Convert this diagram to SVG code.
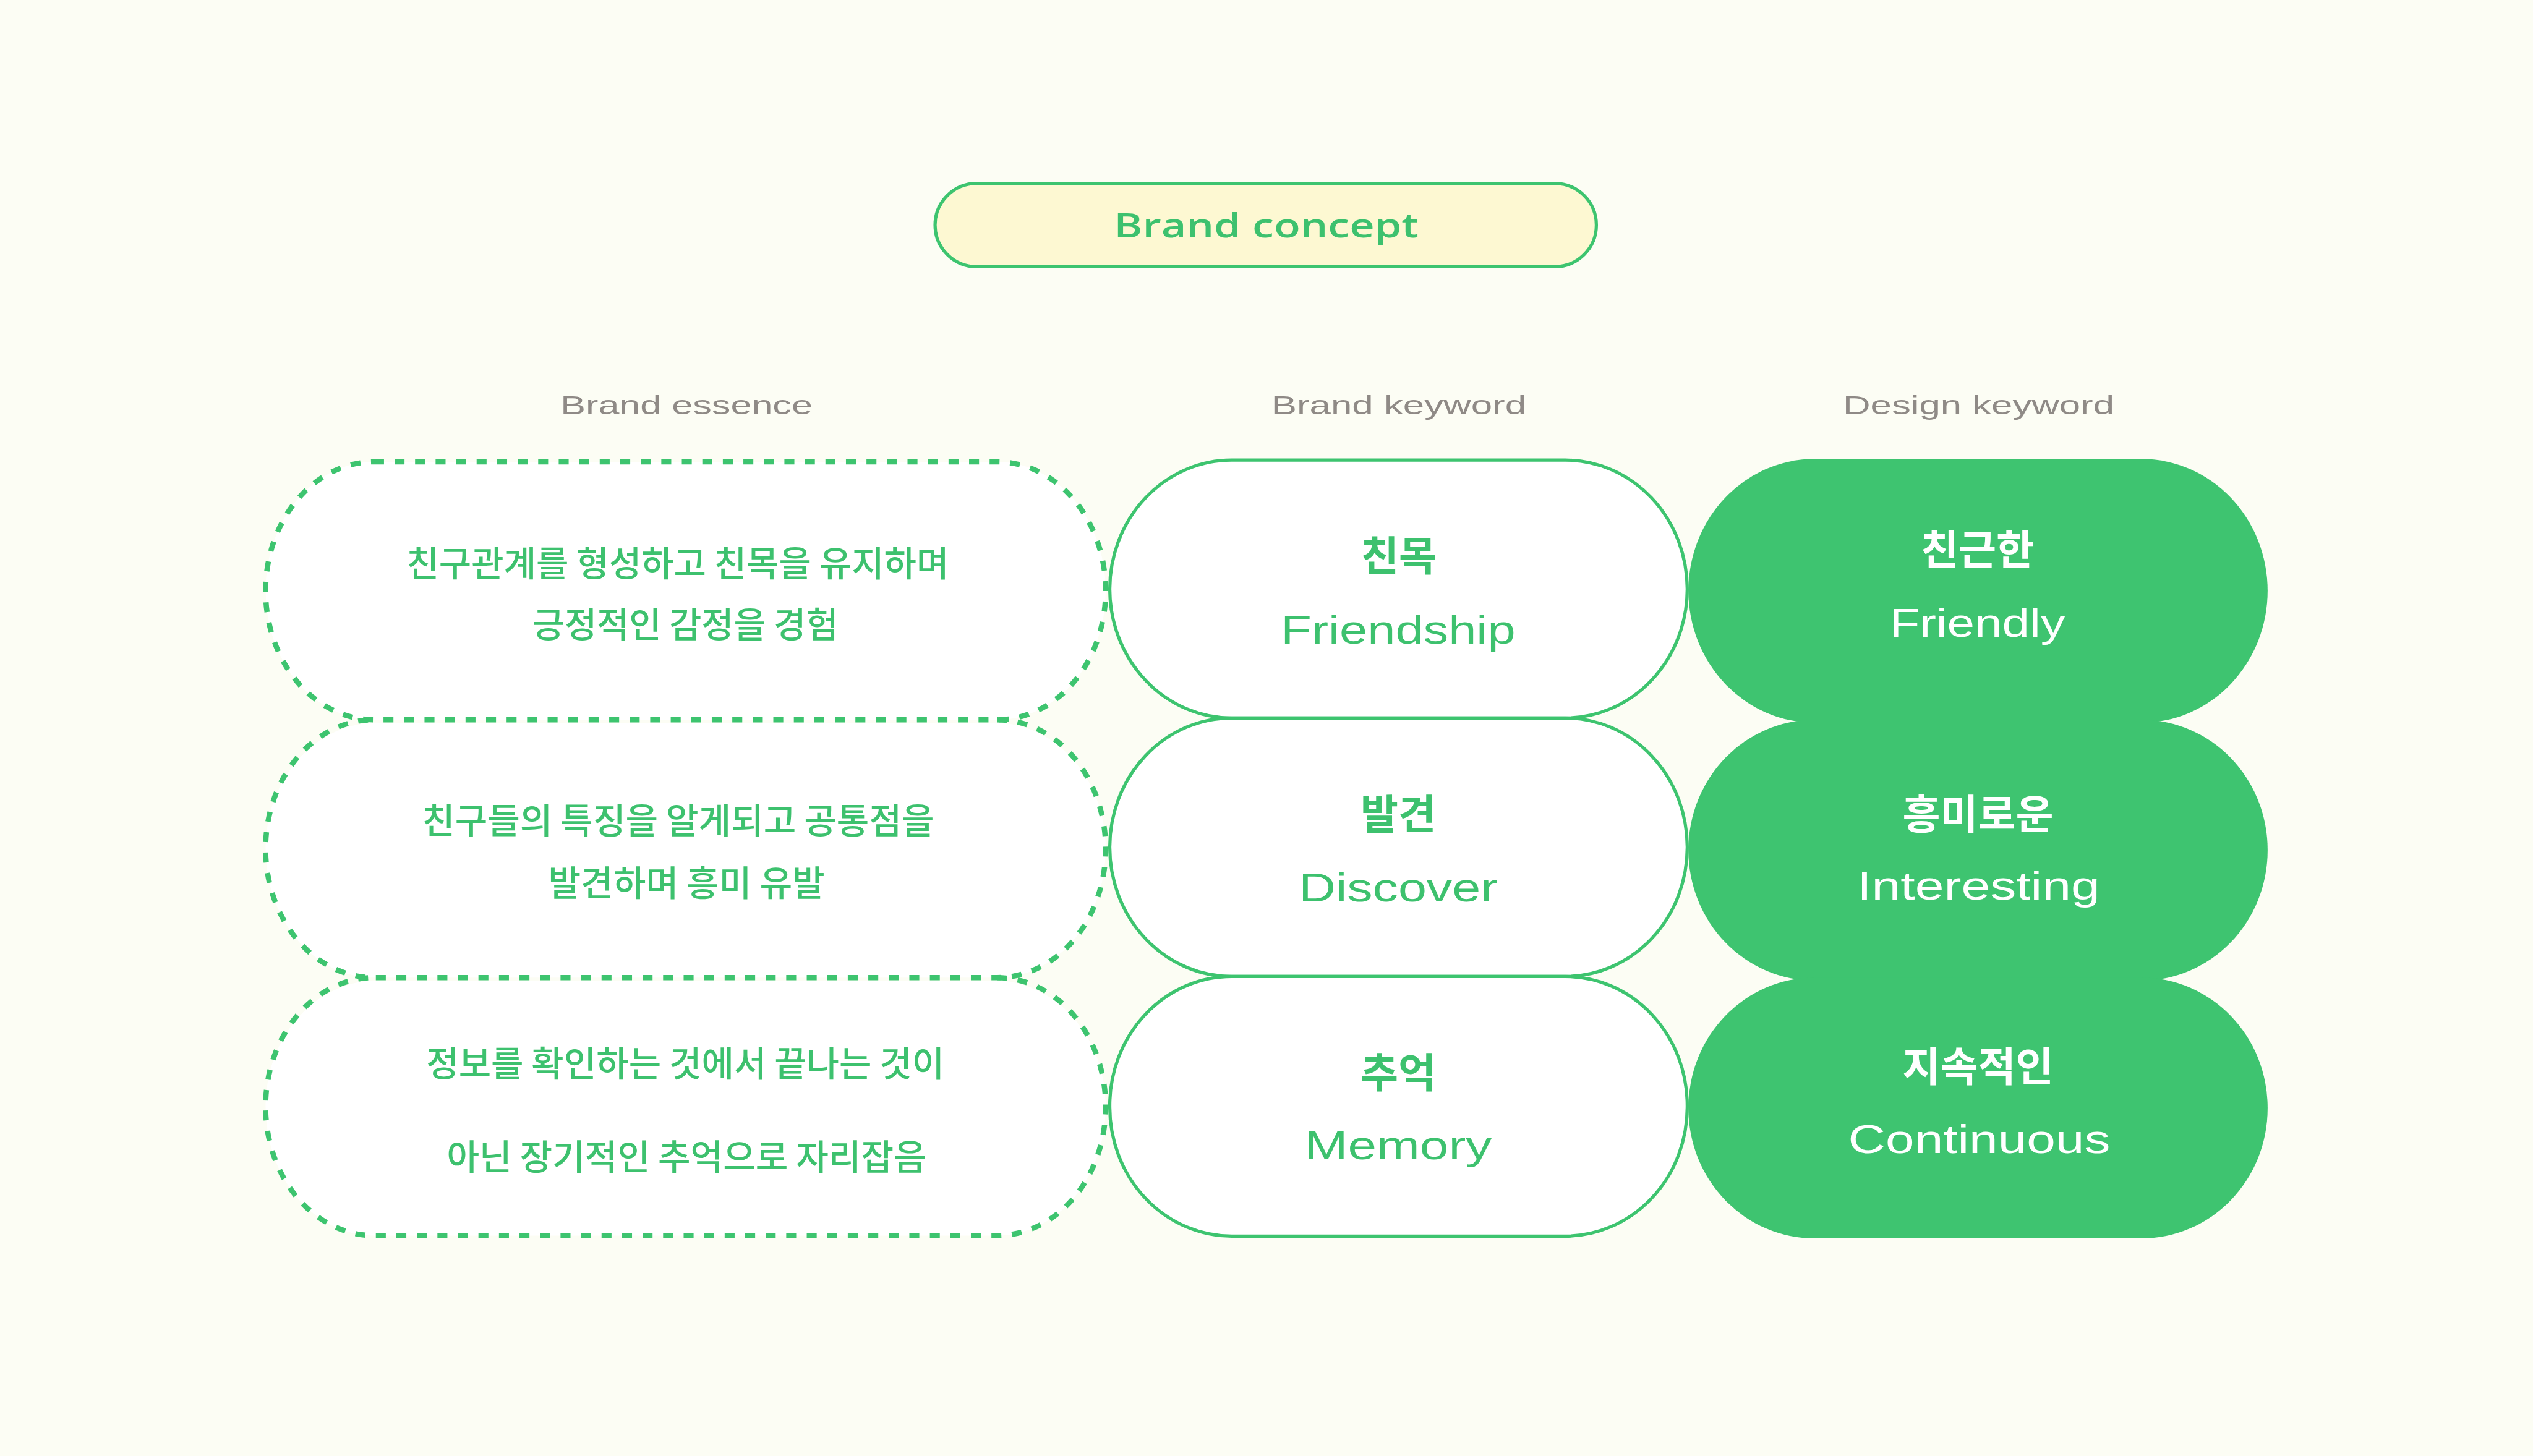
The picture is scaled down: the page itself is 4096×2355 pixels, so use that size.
<svg xmlns="http://www.w3.org/2000/svg" width="4096" height="2355" viewBox="0 0 4096 2355">
<style>
.bg{fill:#FCFDF4}
.en{font-family:"Liberation Sans","Noto Sans",sans-serif;text-anchor:middle}
.ko{font-family:"Noto Sans CJK KR","Noto Sans",sans-serif;text-anchor:middle}
.hdr{fill:#8F8A86;font-size:44px}
.g{fill:#3DC16E}
.w{fill:#FFFFFF}
.body{font-size:60px;font-weight:500}
.ttl{font-size:70px;font-weight:700}
.kw{font-size:68px}
.efill{fill:#FFFFFF;stroke:none}
.dash{fill:none;stroke:#3DC46F;stroke-width:9;stroke-dasharray:17 18}
.mid{fill:#FFFFFF;stroke:#3DC46F;stroke-width:5.5}
.fill{fill:#3EC470}
</style>
<rect class="bg" x="0" y="0" width="4096" height="2355"/>
<g transform="scale(0.948)">
  <g id="brand-concept">
    <rect x="1595" y="313" width="1128" height="142" rx="71" ry="71" fill="#FDF8D2" stroke="#3DC46F" stroke-width="5.5"/>
    <text class="g" x="2160" y="405" font-family="'Open Sans','Liberation Sans',sans-serif" text-anchor="middle" font-size="58" font-weight="600" textLength="520" lengthAdjust="spacingAndGlyphs">Brand concept</text>
  </g>
  <g id="headers">
    <text id="h-essence" class="en hdr" x="1171" y="707" textLength="430" lengthAdjust="spacingAndGlyphs">Brand essence</text>
    <text id="h-brand-kw" class="en hdr" x="2386" y="707" textLength="435" lengthAdjust="spacingAndGlyphs">Brand keyword</text>
    <text id="h-design-kw" class="en hdr" x="3375" y="707" textLength="463" lengthAdjust="spacingAndGlyphs">Design keyword</text>
  </g>
  <g id="connectors"/>
  <g id="essence-1">
    <rect class="efill" x="453" y="788" width="1433" height="440" rx="185" ry="220"/>
    <rect class="dash" x="453" y="788" width="1433" height="440" rx="185" ry="220"/>
    <text class="ko g body" x="1156" y="983" textLength="925" lengthAdjust="spacingAndGlyphs">친구관계를 형성하고 친목을 유지하며</text>
    <text class="ko g body" x="1169" y="1088" textLength="522" lengthAdjust="spacingAndGlyphs">긍정적인 감정을 경험</text>
  </g>
  <g id="essence-2">
    <path class="efill" d="M1690,1233 A190,215 0 0 1 1886,1448 A185,220 0 0 1 1701,1668 L638,1668 A185,220 0 0 1 453,1448 A190,215 0 0 1 649,1233 Z"/>
    <path class="dash" d="M1701,1228 A185,220 0 0 1 1886,1448 A185,220 0 0 1 1701,1668 L638,1668 A185,220 0 0 1 453,1448 A185,220 0 0 1 638,1228"/>
    <text class="ko g body" x="1157" y="1422" textLength="873" lengthAdjust="spacingAndGlyphs">친구들의 특징을 알게되고 공통점을</text>
    <text class="ko g body" x="1171" y="1528" textLength="472" lengthAdjust="spacingAndGlyphs">발견하며 흥미 유발</text>
  </g>
  <g id="essence-3">
    <path class="efill" d="M1690,1673 A190,215 0 0 1 1886,1888 A185,220 0 0 1 1701,2108 L638,2108 A185,220 0 0 1 453,1888 A190,215 0 0 1 649,1673 Z"/>
    <path class="dash" d="M1701,1668 A185,220 0 0 1 1886,1888 A185,220 0 0 1 1701,2108 L638,2108 A185,220 0 0 1 453,1888 A185,220 0 0 1 638,1668"/>
    <text class="ko g body" x="1169" y="1837" textLength="884" lengthAdjust="spacingAndGlyphs">정보를 확인하는 것에서 끝나는 것이</text>
    <text class="ko g body" x="1171" y="1996" textLength="818" lengthAdjust="spacingAndGlyphs">아닌 장기적인 추억으로 자리잡음</text>
  </g>
  <g id="brand-kw-1">
    <rect class="mid" x="1893" y="785" width="985" height="440" rx="208" ry="220"/>
    <text class="ko g ttl" x="2386" y="974">친목</text>
    <text class="en g kw" x="2385" y="1098" textLength="400" lengthAdjust="spacingAndGlyphs">Friendship</text>
  </g>
  <g id="brand-kw-2">
    <rect class="mid" x="1893" y="1225" width="985" height="441" rx="208" ry="220"/>
    <text class="ko g ttl" x="2385" y="1415">발견</text>
    <text class="en g kw" x="2385" y="1538" textLength="339" lengthAdjust="spacingAndGlyphs">Discover</text>
  </g>
  <g id="brand-kw-3">
    <rect class="mid" x="1893" y="1666" width="985" height="443" rx="208" ry="220"/>
    <text class="ko g ttl" x="2385" y="1855">추억</text>
    <text class="en g kw" x="2385" y="1978" textLength="319" lengthAdjust="spacingAndGlyphs">Memory</text>
  </g>
  <g id="design-kw-1">
    <rect class="fill" x="2880" y="783" width="988" height="450" rx="215" ry="225"/>
    <text class="ko w ttl" x="3373" y="963">친근한</text>
    <text class="en w kw" x="3373" y="1086" textLength="300" lengthAdjust="spacingAndGlyphs">Friendly</text>
  </g>
  <g id="design-kw-2">
    <rect class="fill" x="2880" y="1228" width="988" height="445" rx="215" ry="222"/>
    <text class="ko w ttl" x="3374" y="1415">흥미로운</text>
    <text class="en w kw" x="3375" y="1535" textLength="414" lengthAdjust="spacingAndGlyphs">Interesting</text>
  </g>
  <g id="design-kw-3">
    <rect class="fill" x="2880" y="1668" width="988" height="445" rx="215" ry="222"/>
    <text class="ko w ttl" x="3374" y="1845">지속적인</text>
    <text class="en w kw" x="3376" y="1967" textLength="447" lengthAdjust="spacingAndGlyphs">Continuous</text>
  </g>
</g>
</svg>
